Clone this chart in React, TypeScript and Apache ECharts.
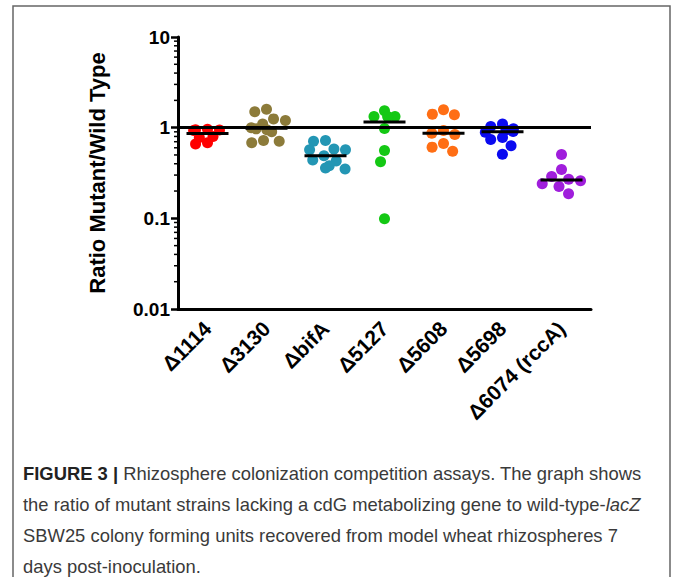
import React, { useEffect, useRef } from "react";
import * as echarts from "echarts";

const categories = ["Δ1114", "Δ3130", "ΔbifA", "Δ5127", "Δ5608", "Δ5698", "Δ6074 (rccA)"];
const colors = ["#FF0000", "#8C7B3A", "#2396B4", "#14C814", "#FF6E14", "#0A0AF0", "#A01EDC"];

const d1114 = [0.96, 0.95, 0.94, 0.93, 0.8, 0.78, 0.68, 0.66];
const d3130 = [1.6, 1.5, 1.25, 1.2, 1.1, 1.0, 0.97, 0.95, 0.9, 0.72, 0.71, 0.68];
const dBifA = [0.72, 0.71, 0.58, 0.57, 0.57, 0.49, 0.44, 0.43, 0.38, 0.36, 0.35];
const d5127 = [1.54, 1.33, 1.33, 1.33, 0.98, 0.56, 0.42, 0.099];
const d5608 = [1.58, 1.41, 1.39, 0.93, 0.87, 0.84, 0.67, 0.61, 0.55];
const d5698 = [1.1, 1.03, 0.97, 0.94, 0.91, 0.89, 0.78, 0.74, 0.63, 0.51];
const d6074 = [0.505, 0.345, 0.29, 0.27, 0.26, 0.24, 0.225, 0.187];

const groups = [d1114, d3130, dBifA, d5127, d5608, d5698, d6074];

const minorTickValues = [
  0.02, 0.03, 0.04, 0.05, 0.06, 0.07, 0.08, 0.09,
  0.2, 0.3, 0.4, 0.5, 0.6, 0.7, 0.8, 0.9,
  2, 3, 4, 5, 6, 7, 8, 9,
];

const captionLines = [
  "{b|FIGURE 3 |} Rhizosphere colonization competition assays. The graph shows",
  "the ratio of mutant strains lacking a cdG metabolizing gene to wild-type-{i|lacZ}",
  "SBW25 colony forming units recovered from model wheat rhizospheres 7",
  "days post-inoculation.",
];

function median(arr: number[]) {
  const s = [...arr].sort((a, b) => a - b);
  const m = Math.floor(s.length / 2);
  return s.length % 2 ? s[m] : (s[m - 1] + s[m]) / 2;
}

export default function App() {
  const ref = useRef<HTMLDivElement>(null);
  useEffect(() => {
    if (!ref.current) return;
    const chart = echarts.init(ref.current, null, { renderer: "svg" });
    const font = "Liberation Sans, Arial, sans-serif";
    const capSize = 18.4;

    const scatterSeries: any[] = groups.map((g, i) => ({
      type: "scatter",
      name: categories[i],
      data: g.map((v) => [categories[i], v]),
      symbolSize: 11,
      itemStyle: { color: colors[i], opacity: 1 },
      z: 2,
    }));
    scatterSeries[0].markLine = {
      silent: true,
      symbol: "none",
      label: { show: false },
      lineStyle: { color: "#000", width: 3, type: "solid" },
      data: [{ yAxis: 1 }],
      z: 4,
    };

    const option: any = {
      animation: false,
      grid: { left: 178, right: 82, top: 37, bottom: 268, containLabel: false },
      xAxis: {
        type: "category",
        data: categories,
        boundaryGap: true,
        jitter: 40,
        jitterOverlap: false,
        jitterMargin: 1,
        axisLine: { lineStyle: { color: "#000", width: 3 } },
        axisTick: { alignWithLabel: true, length: 7, lineStyle: { color: "#000", width: 2.5 } },
        axisLabel: {
          rotate: 45,
          interval: 0,
          margin: 16,
          color: "#000",
          fontWeight: "bold",
          fontSize: 21,
          fontFamily: font,
        },
        splitLine: { show: false },
      },
      yAxis: {
        type: "log",
        logBase: 10,
        min: 0.01,
        max: 10,
        name: "Ratio Mutant/Wild Type",
        nameLocation: "middle",
        nameGap: 70,
        nameTextStyle: { fontSize: 22, fontWeight: "bold", color: "#000", fontFamily: font },
        axisLine: { show: true, lineStyle: { color: "#000", width: 3 } },
        axisTick: { show: true, length: 7, lineStyle: { color: "#000", width: 2.5 } },
        axisLabel: {
          color: "#000",
          fontWeight: "bold",
          fontSize: 19,
          fontFamily: font,
          margin: 8,
          formatter: (v: number) => String(parseFloat(v.toPrecision(3))),
        },
        splitLine: { show: false },
      },
      series: [
        ...scatterSeries,
        {
          type: "custom",
          name: "median",
          z: 5,
          silent: true,
          data: groups.map((g, i) => [i, median(g)]),
          renderItem: (params: any, api: any) => {
            const p = api.coord([api.value(0), api.value(1)]);
            return {
              type: "line",
              shape: { x1: p[0] - 21, y1: p[1], x2: p[0] + 21, y2: p[1] },
              style: { stroke: "#000", lineWidth: 3 },
            };
          },
        },
        {
          type: "custom",
          name: "minorTicks",
          clip: false,
          silent: true,
          z: 5,
          data: minorTickValues.map((v) => [0, v]),
          renderItem: (params: any, api: any) => {
            const p = api.coord([0, api.value(1)]);
            const x0 = params.coordSys.x;
            return {
              type: "line",
              shape: { x1: x0 - 4, y1: p[1], x2: x0, y2: p[1] },
              style: { stroke: "#000", lineWidth: 1.5 },
            };
          },
        },
      ],
      graphic: [
        {
          type: "rect",
          shape: { x: 13, y: 6, width: 657, height: 620 },
          style: { fill: "none", stroke: "#666", lineWidth: 1.5 },
          silent: true,
        },
        ...captionLines.map((t, i) => ({
          type: "text",
          x: 23,
          y: 473 + i * 31,
          style: {
            text: t,
            fill: "#3a3a3a",
            font: `${capSize}px ${font}`,
            verticalAlign: "middle",
            rich: {
              b: { fontWeight: "bold", fill: "#222", fontSize: capSize, fontFamily: font },
              i: { fontStyle: "italic", fill: "#3a3a3a", fontSize: capSize, fontFamily: font },
            },
          },
          silent: true,
        })),
      ],
    };
    chart.setOption(option);
    return () => chart.dispose();
  }, []);
  return (
    <div
      ref={ref}
      style={{ position: "absolute", left: 0, top: 0, width: 673, height: 577, background: "#fff" }}
    />
  );
}
